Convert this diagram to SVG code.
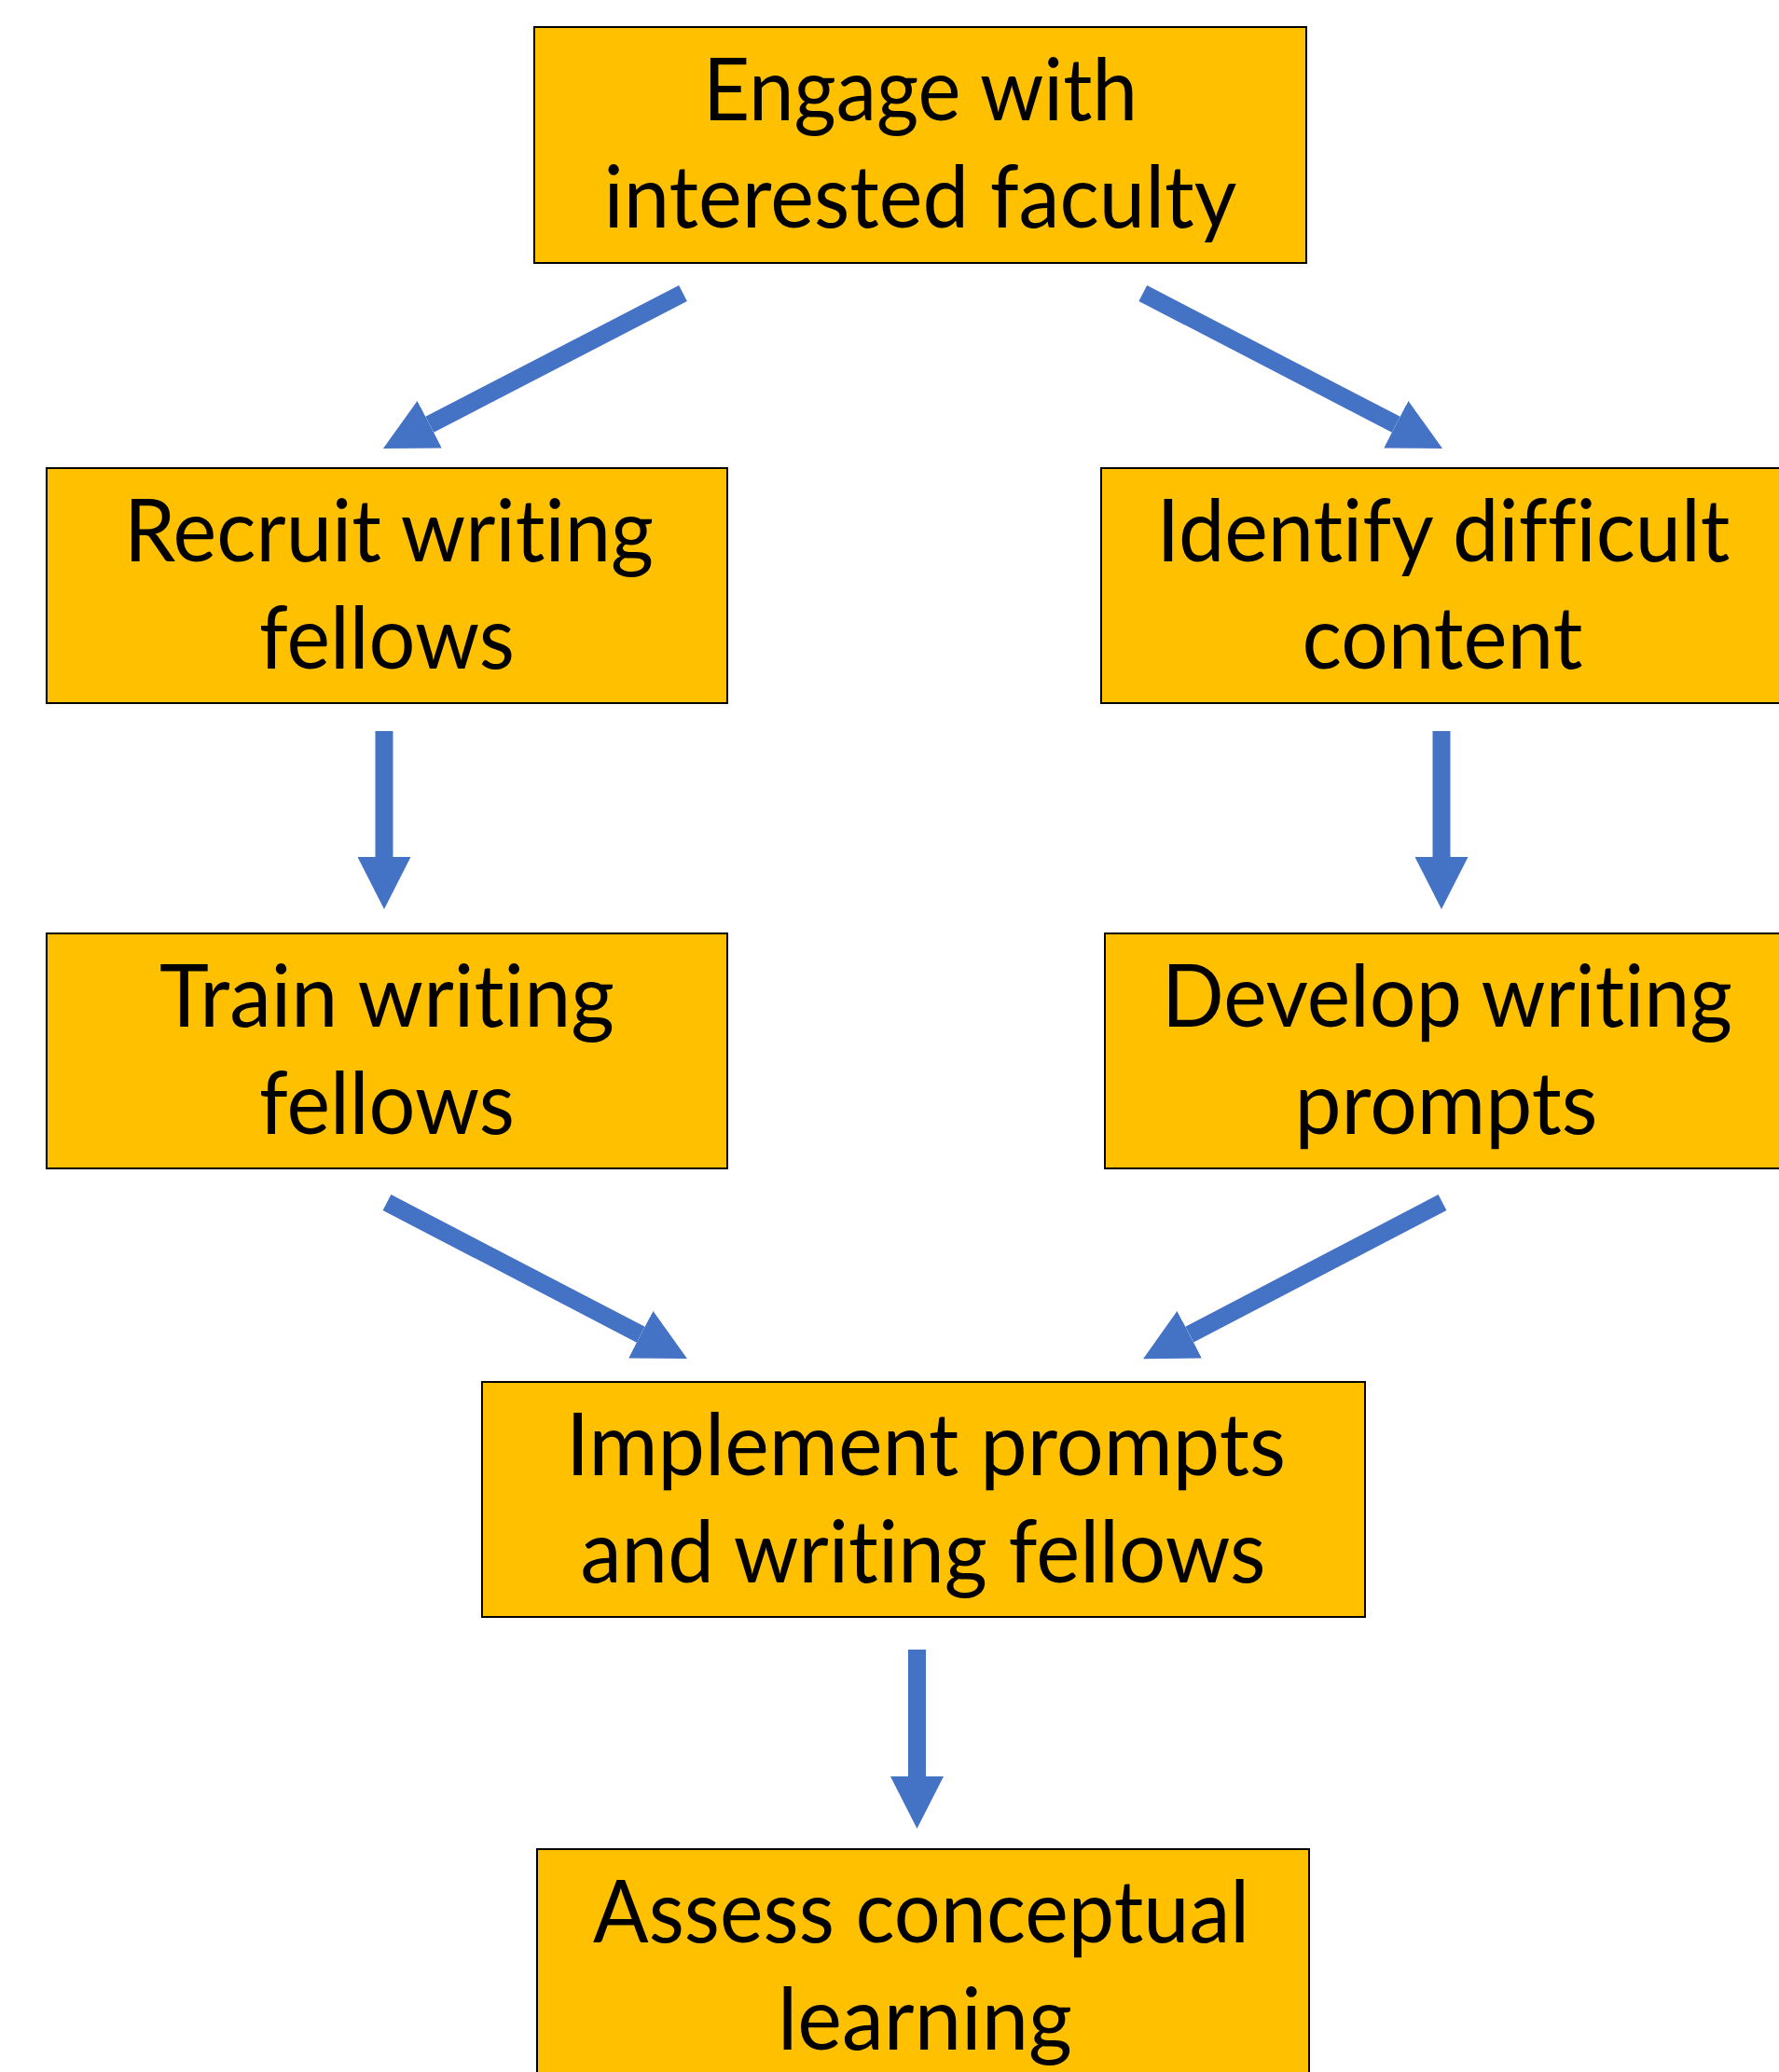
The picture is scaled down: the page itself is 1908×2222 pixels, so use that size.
<svg xmlns="http://www.w3.org/2000/svg" width="1908" height="2222" viewBox="0 0 1908 2222">
  <style>
    .box { fill: #FFC000; stroke: #000000; stroke-width: 2; }
    .label { font-family: "Lato", "Liberation Sans", sans-serif; font-size: 94px; fill: #000000; text-anchor: middle; font-variant-ligatures: none; font-feature-settings: "liga" 0, "dlig" 0; }
    .flow { stroke: #4472C4; stroke-width: 19; fill: none; marker-end: url(#head); }
  </style>
  <defs>
    <marker id="head" viewBox="0 0 56 57" markerWidth="56" markerHeight="57" refX="0" refY="28.5" markerUnits="userSpaceOnUse" orient="auto">
      <path d="M0,0 L56,28.5 L0,57 Z" fill="#4472C4"/>
    </marker>
  </defs>
  <rect width="1908" height="2222" fill="#FFFFFF"/>

  <g id="connectors">
    <line class="flow" x1="732.5" y1="314.5" x2="460.7" y2="455.2"/>
    <line class="flow" x1="1225.8" y1="314.5" x2="1497.3" y2="455.2"/>
    <line class="flow" x1="412" y1="784" x2="412" y2="919"/>
    <line class="flow" x1="1546" y1="784" x2="1546" y2="919"/>
    <line class="flow" x1="415" y1="1289.5" x2="687.3" y2="1431.2"/>
    <line class="flow" x1="1547" y1="1289.5" x2="1275.7" y2="1431.2"/>
    <line class="flow" x1="983.5" y1="1769" x2="983.5" y2="1905"/>
  </g>

  <g id="engage">
    <rect class="box" x="573" y="29" width="828" height="253"/>
    <text class="label" x="987" y="129" textLength="466" lengthAdjust="spacingAndGlyphs">Engage with</text>
    <text class="label" x="987" y="244" textLength="679" lengthAdjust="spacingAndGlyphs">interested faculty</text>
  </g>

  <g id="recruit">
    <rect class="box" x="50" y="502" width="730" height="252"/>
    <text class="label" x="417" y="602" textLength="568" lengthAdjust="spacingAndGlyphs">Recruit writing</text>
    <text class="label" x="415" y="717" textLength="274" lengthAdjust="spacingAndGlyphs">fellows</text>
  </g>

  <g id="identify">
    <rect class="box" x="1181" y="502" width="734" height="252"/>
    <text class="label" x="1548" y="602" textLength="615" lengthAdjust="spacingAndGlyphs">Identify difficult</text>
    <text class="label" x="1547" y="717" textLength="301" lengthAdjust="spacingAndGlyphs">content</text>
  </g>

  <g id="train">
    <rect class="box" x="50" y="1001" width="730" height="252"/>
    <text class="label" x="415" y="1101" textLength="488" lengthAdjust="spacingAndGlyphs">Train writing</text>
    <text class="label" x="415" y="1216" textLength="274" lengthAdjust="spacingAndGlyphs">fellows</text>
  </g>

  <g id="develop">
    <rect class="box" x="1185" y="1001" width="734" height="252"/>
    <text class="label" x="1552" y="1101" textLength="612" lengthAdjust="spacingAndGlyphs">Develop writing</text>
    <text class="label" x="1551" y="1216" textLength="325" lengthAdjust="spacingAndGlyphs">prompts</text>
  </g>

  <g id="implement">
    <rect class="box" x="517" y="1482" width="947" height="252"/>
    <text class="label" x="993" y="1582" textLength="772" lengthAdjust="spacingAndGlyphs">Implement prompts</text>
    <text class="label" x="990" y="1697" textLength="735" lengthAdjust="spacingAndGlyphs">and writing fellows</text>
  </g>

  <g id="assess">
    <rect class="box" x="576" y="1983" width="828" height="260"/>
    <text class="label" x="988" y="2083" textLength="704" lengthAdjust="spacingAndGlyphs">Assess conceptual</text>
    <text class="label" x="992" y="2198" textLength="316" lengthAdjust="spacingAndGlyphs">learning</text>
  </g>
</svg>
